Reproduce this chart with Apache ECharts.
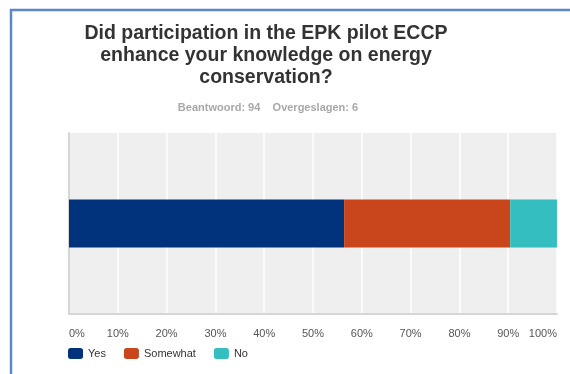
<!DOCTYPE html>
<html>
<head>
<meta charset="utf-8">
<script src="https://cdn.jsdelivr.net/npm/echarts@6/dist/echarts.min.js"></script>
<style>
  html, body { margin: 0; padding: 0; background: #ffffff; }
  #chart { width: 570px; height: 374px; }
</style>
</head>
<body>
<div id="chart"></div>
<script>
// Survey question and response counts
const titleText = 'Did participation in the EPK pilot ECCP\nenhance your knowledge on energy\nconservation?';
const subtitleText = 'Beantwoord: 94    Overgeslagen: 6';
const categories = ['Q'];
const answerNames = ['Yes', 'Somewhat', 'No'];
const answerShares = [56.38, 34.04, 9.57]; // percent of respondents
const answerColors = ['#01327c', '#c9461c', '#34bebf'];
const tickSuffix = '%';

const chart = echarts.init(document.getElementById('chart'), null, { renderer: 'canvas' });

const series = answerNames.map((name, i) => ({
  name: name,
  type: 'bar',
  stack: 'total',
  barWidth: 48,
  itemStyle: { color: answerColors[i] },
  emphasis: { disabled: true },
  data: [answerShares[i]]
}));

chart.setOption({
  backgroundColor: '#ffffff',
  animation: false,
  textStyle: { fontFamily: 'Liberation Sans, Arial, sans-serif' },
  title: [
    {
      text: titleText,
      left: 261,
      top: 17.5,
      textAlign: 'center',
      textStyle: { fontSize: 19.5, fontWeight: 'bold', color: '#333333', lineHeight: 22,
                   fontFamily: 'Liberation Sans, Arial, sans-serif' }
    },
    {
      text: subtitleText,
      left: 263,
      top: 97,
      textAlign: 'center',
      textStyle: { fontSize: 11, fontWeight: 'bold', color: '#a8a8a8',
                   fontFamily: 'Liberation Sans, Arial, sans-serif' }
    }
  ],
  legend: {
    data: answerNames,
    left: 63,
    top: 343,
    icon: 'roundRect',
    itemWidth: 15,
    itemHeight: 11,
    itemGap: 18,
    selectedMode: false,
    textStyle: { fontSize: 11, color: '#333333', fontFamily: 'Liberation Sans, Arial, sans-serif' }
  },
  grid: {
    left: 69,
    right: 13,
    top: 133,
    bottom: 60,
    show: true,
    backgroundColor: '#efefef',
    borderWidth: 0,
    containLabel: false
  },
  xAxis: {
    type: 'value',
    min: 0,
    max: 100,
    interval: 10,
    axisLine: { show: true, lineStyle: { color: '#d6d6d6', width: 2 } },
    axisTick: { show: false },
    splitLine: { show: true, lineStyle: { color: '#ffffff', width: 1.5 } },
    axisLabel: {
      formatter: v => v + tickSuffix,
      fontSize: 11,
      color: '#555555',
      margin: 14,
      alignMinLabel: 'left',
      alignMaxLabel: 'right',
      fontFamily: 'Liberation Sans, Arial, sans-serif'
    }
  },
  yAxis: {
    type: 'category',
    data: categories,
    axisLine: { show: true, lineStyle: { color: '#d6d6d6', width: 2 } },
    axisTick: { show: false },
    axisLabel: { show: false },
    splitLine: { show: false }
  },
  series: series,
  graphic: [
    {
      type: 'polyline',
      shape: { points: [[11, 374], [11, 10], [570, 10]] },
      style: { stroke: '#5b88c8', lineWidth: 2.5, fill: null },
      silent: true
    }
  ]
});
</script>
</body>
</html>
